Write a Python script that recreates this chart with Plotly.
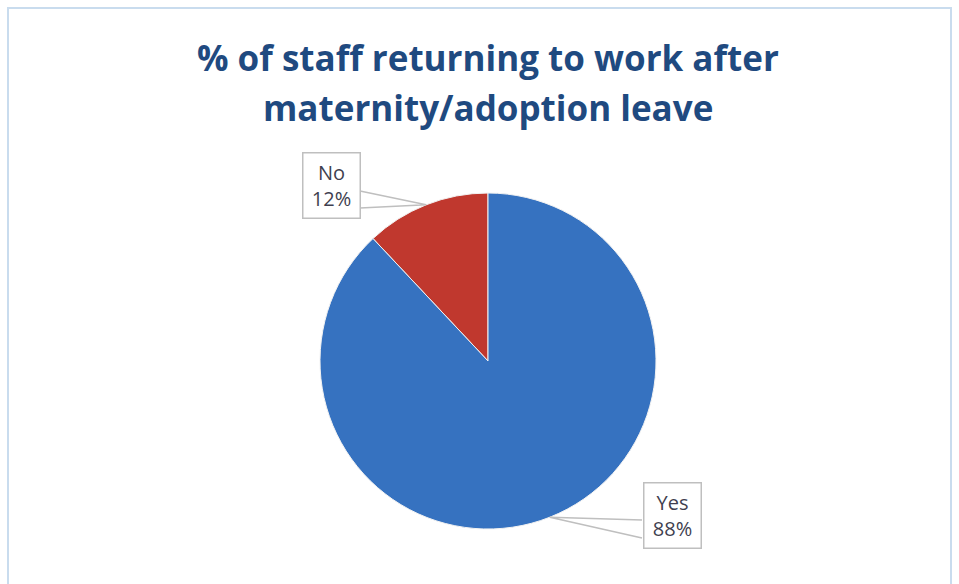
import math
import plotly.graph_objects as go

labels = ["No", "Yes"]
values = [12, 88]
colors = ["#C0382E", "#3672C0"]
title_lines = ["% of staff returning to work after", "maternity/adoption leave"]

W, H = 959, 584
cx, cy, R = 488, 361, 168
total = sum(values)

fig = go.Figure(go.Pie(
    labels=labels, values=values, sort=False, direction="clockwise",
    rotation=-values[0] / total * 360, textinfo="none", hoverinfo="label+percent",
    marker=dict(colors=colors, line=dict(color="#F2F2F2", width=1)),
    domain=dict(x=[(cx - R) / W, (cx + R) / W], y=[1 - (cy + R) / H, 1 - (cy - R) / H]),
    showlegend=False,
))

def px(x):
    return x / W

def py(y):
    return 1 - y / H

# label boxes (pixel centre, pointer base x, pointer y1, y2)
boxes = {"No": (331, 185, 360, 191, 208), "Yes": (672, 515, 642, 520, 538)}
shapes = []
annotations = []
start = 0.0
for lab, v in zip(labels, values):
    mid = start + v / total * 360 / 2
    start += v / total * 360
    ang = math.radians(mid)
    tx = cx - R * math.sin(ang)
    ty = cy - R * math.cos(ang)
    bx, by, ex, y1, y2 = boxes[lab]
    pct = round(v / total * 100)
    shapes.append(dict(type="path", xref="paper", yref="paper",
                       path=f"M {px(ex)},{py(y1)} L {px(tx)},{py(ty)} L {px(ex)},{py(y2)}",
                       line=dict(color="#BFBFBF", width=1.5), fillcolor="rgba(255,255,255,0)"))
    annotations.append(dict(x=px(bx), y=py(by), xref="paper", yref="paper",
                            xanchor="center", yanchor="middle",
                            text=f"{lab}<br>{pct}%", showarrow=False,
                            font=dict(family="Open Sans", size=20, color="#3F3F4F"),
                            bgcolor="white", bordercolor="#BFBFBF", borderwidth=1.5,
                            width=54, height=62, align="center"))

for i, (line, ypix) in enumerate(zip(title_lines, [58, 108])):
    annotations.append(dict(x=px(488), y=py(ypix), xref="paper", yref="paper",
                            text="<b>" + line + "</b>", showarrow=False,
                            font=dict(family="Open Sans", size=35, color="#1F4A80"),
                            xanchor="center", yanchor="middle"))

shapes.append(dict(type="rect", xref="paper", yref="paper",
                   x0=px(8), x1=px(951), y0=py(600), y1=py(8),
                   line=dict(color="#C9DCEE", width=2), layer="below"))

fig.update_layout(width=W, height=H, margin=dict(l=0, r=0, t=0, b=0),
                  paper_bgcolor="white", plot_bgcolor="white",
                  shapes=shapes, annotations=annotations)
fig.write_html("out.html")
